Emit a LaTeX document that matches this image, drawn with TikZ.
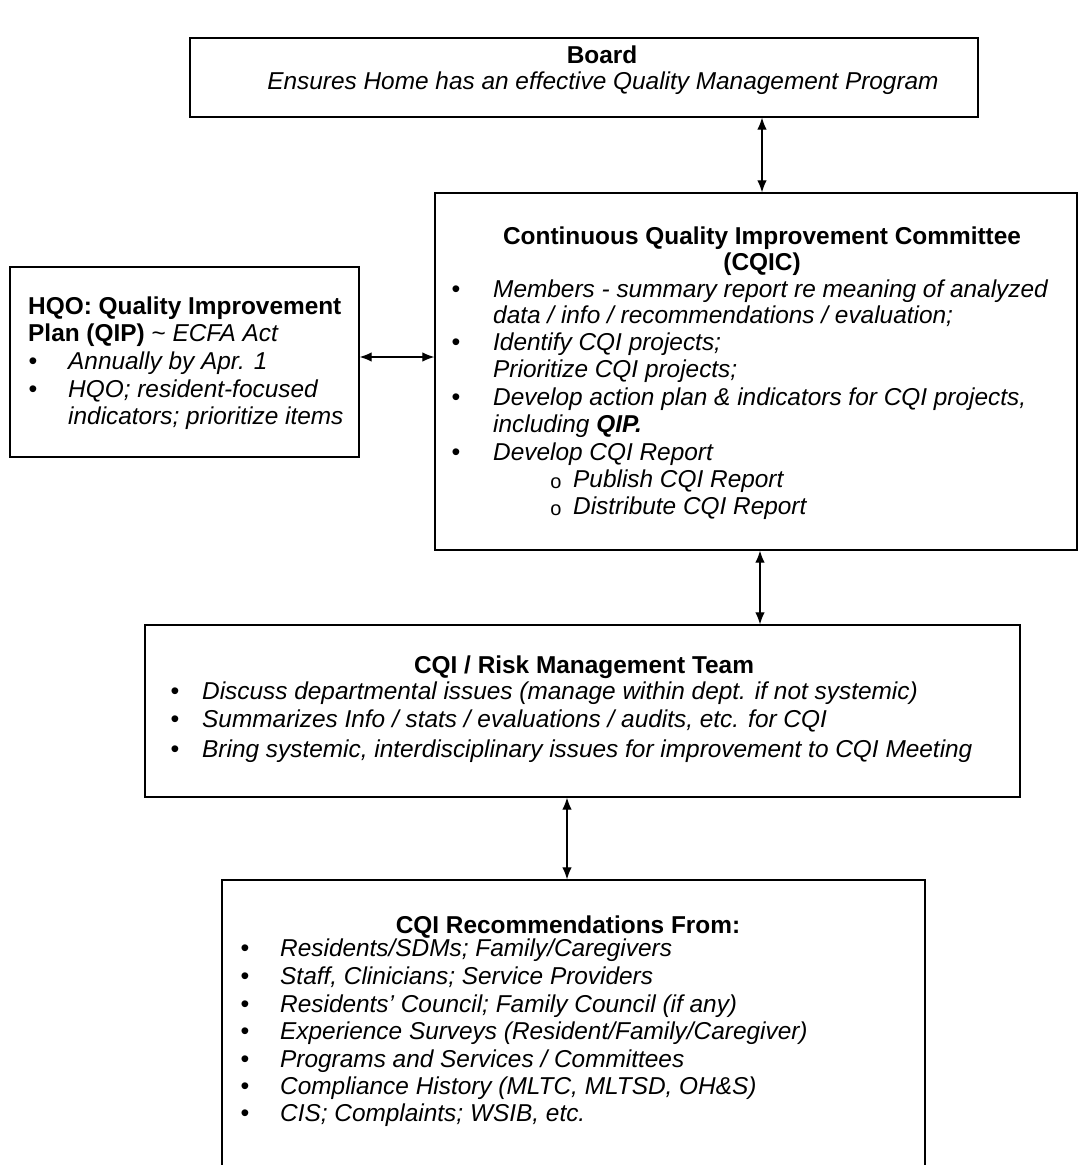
\documentclass[tikz,border=0pt]{standalone}
\usepackage{fontspec}
\setmainfont{Liberation Sans}
\usetikzlibrary{arrows.meta}
\begin{document}
\begin{tikzpicture}[x=1pt,y=-1pt,
  box/.style={draw, line width=1.3pt, rectangle, inner sep=0pt},
  ln/.style={anchor=mid west, inner sep=0pt, font=\fontsize{24.4}{28}\selectfont\itshape},
  ttl/.style={anchor=mid, inner sep=0pt, font=\fontsize{24.4}{28}\selectfont\bfseries},
  blt/.style={anchor=mid, inner sep=0pt, font=\fontsize{25}{28}\selectfont},
  sub/.style={anchor=mid, inner sep=0pt, font=\fontsize{20}{22}\selectfont},
  arr/.style={line width=1.2pt, {Latex[length=12pt,width=9.5pt]}-{Latex[length=12pt,width=9.5pt]}}
]
\useasboundingbox (0,0) rectangle (1079,1165);
\clip (0,0) rectangle (1079,1165);

% boxes
\node[box, minimum width=788pt, minimum height=79pt] (board) at (584,77.5) {};
\node[box, minimum width=642pt, minimum height=357pt] (cqic) at (756,371.5) {};
\node[box, minimum width=349pt, minimum height=190pt] (hqo) at (184.5,362) {};
\node[box, minimum width=875pt, minimum height=172pt] (team) at (582.5,711) {};
\node[box, minimum width=703pt, minimum height=290pt] (rec) at (573.5,1025) {};

% connector positions
\coordinate (c1) at (762,0);
\coordinate (c2) at (0,357);
\coordinate (c3) at (760,0);
\coordinate (c4) at (567,0);
\draw[arr] (board.south -| c1) -- (cqic.north -| c1);
\draw[arr] (hqo.east |- c2) -- (cqic.west |- c2);
\draw[arr] (cqic.south -| c3) -- (team.north -| c3);
\draw[arr] (team.south -| c4) -- (rec.north -| c4);

\begin{scope}[shift={(0,4)}]
% Board text
\node[ttl] (bt) at (602,57) {Board};
\node[anchor=mid, inner sep=0pt, font=\fontsize{24.4}{28}\selectfont\itshape] (bs) at (603,83) {Ensures Home has an effective Quality Management Program};

% CQIC text
\node[ttl] (ct1) at (762,238) {Continuous Quality Improvement Committee};
\node[ttl] (ct2) at (762,264) {(CQIC)};
\node[blt] (cb1) at (456,291) {•};
\node[ln] (cl1) at (493,291) {Members - summary report re meaning of analyzed};
\node[ln] (cl2) at (493,317) {data / info / recommendations / evaluation;};
\node[blt] (cb2) at (456,344) {•};
\node[ln] (cl3) at (493,344) {Identify CQI projects;};
\node[ln] (cl4) at (493,371) {Prioritize CQI projects;};
\node[blt] (cb3) at (456,399) {•};
\node[ln] (cl5) at (493,399) {Develop action plan \& indicators for CQI projects,};
\node[ln] (cl6) at (493,426) {including \textbf{QIP.}};
\node[blt] (cb4) at (456,454) {•};
\node[ln] (cl7) at (493,454) {Develop CQI Report};
\node[sub] (cs1) at (556,482) {o};
\node[ln] (cl8) at (573,481) {Publish CQI Report};
\node[sub] (cs2) at (556,509) {o};
\node[ln] (cl9) at (573,508) {Distribute CQI Report};

% HQO text
\node[anchor=mid west, inner sep=0pt, font=\fontsize{24.4}{28}\selectfont\bfseries] (ht1) at (28,308) {HQO: Quality Improvement};
\node[anchor=mid west, inner sep=0pt, font=\fontsize{24.4}{28}\selectfont] (ht2) at (28,335) {\textbf{Plan (QIP)} \textasciitilde{} \textit{ECFA Act}};
\node[blt] (hb1) at (33,363) {•};
\node[ln] (hl1) at (68,363) {Annually by Apr. 1};
\node[blt] (hb2) at (33,391) {•};
\node[ln] (hl2) at (68,391) {HQO; resident-focused};
\node[ln] (hl3) at (68,418) {indicators; prioritize items};

% Team text
\node[ttl] (tt) at (584,667) {CQI / Risk Management Team};
\node[blt] (tb1) at (175,693) {•};
\node[ln] (tl1) at (202,693) {Discuss departmental issues (manage within dept. if not systemic)};
\node[blt] (tb2) at (175,721) {•};
\node[ln] (tl2) at (202,721) {Summarizes Info / stats / evaluations / audits, etc. for CQI};
\node[blt] (tb3) at (175,751) {•};
\node[ln] (tl3) at (202,751) {Bring systemic, interdisciplinary issues for improvement to CQI Meeting};

% Rec text
\node[ttl] (rt) at (568,927) {CQI Recommendations From:};
\node[blt] (rb1) at (245,950) {•};
\node[ln] (rl1) at (280,950) {Residents/SDMs; Family/Caregivers};
\node[blt] (rb2) at (245,978) {•};
\node[ln] (rl2) at (280,978) {Staff, Clinicians; Service Providers};
\node[blt] (rb3) at (245,1006) {•};
\node[ln] (rl3) at (280,1006) {Residents' Council; Family Council (if any)};
\node[blt] (rb4) at (245,1033) {•};
\node[ln] (rl4) at (280,1033) {Experience Surveys (Resident/Family/Caregiver)};
\node[blt] (rb5) at (245,1061) {•};
\node[ln] (rl5) at (280,1061) {Programs and Services / Committees};
\node[blt] (rb6) at (245,1088) {•};
\node[ln] (rl6) at (280,1088) {Compliance History (MLTC, MLTSD, OH\&S)};
\node[blt] (rb7) at (245,1115) {•};
\node[ln] (rl7) at (280,1115) {CIS; Complaints; WSIB, etc.};
\end{scope}
\end{tikzpicture}
\end{document}
